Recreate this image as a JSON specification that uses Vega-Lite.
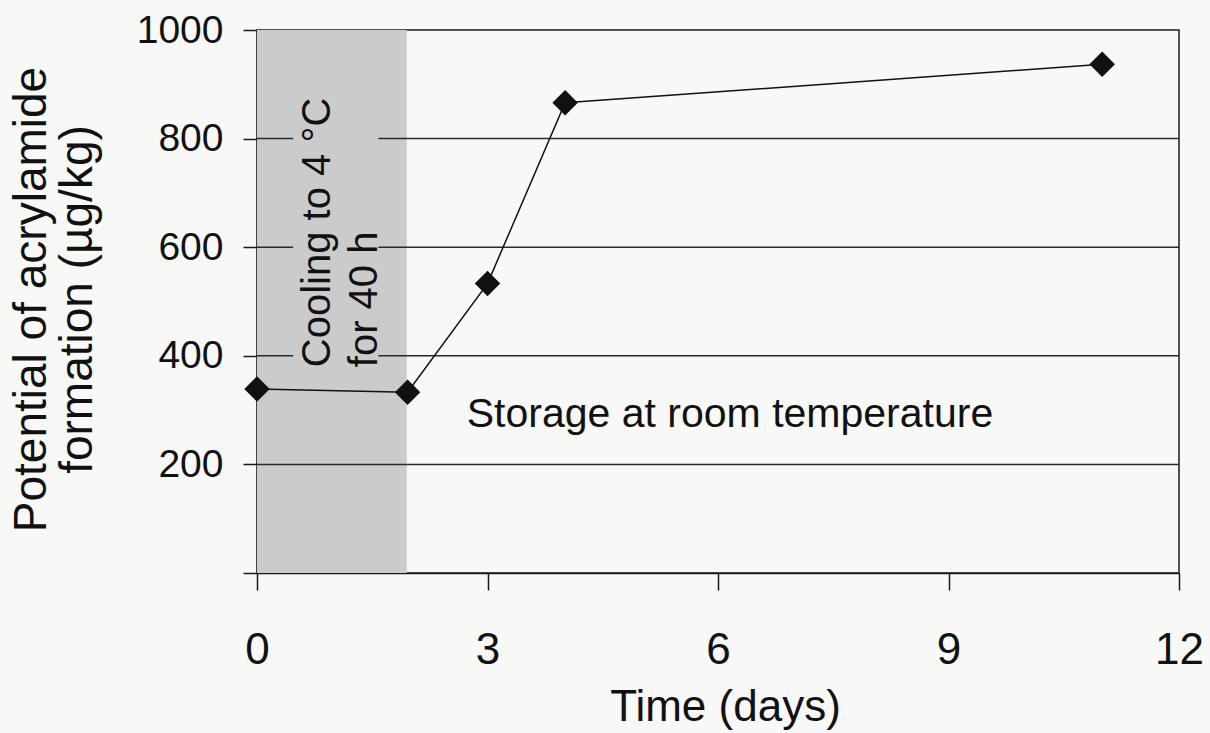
{
  "$schema": "https://vega.github.io/schema/vega-lite/v6.json",
  "width": 922,
  "height": 543,
  "autosize": {"type": "none"},
  "padding": {"left": 257, "top": 30, "right": 31, "bottom": 160},
  "background": "#f8f8f6",
  "config": {
    "font": "Liberation Sans",
    "view": {"stroke": "#1a1a1a", "strokeWidth": 1.5}
  },
  "layer": [
    {
      "data": {"values": [{"start": 0, "end": 1.95, "low": 0, "high": 1000}]},
      "mark": {"type": "rect", "color": "#cbcbcb"},
      "encoding": {
        "x": {"field": "start", "type": "quantitative", "scale": {"domain": [0, 12], "nice": false}},
        "x2": {"field": "end"},
        "y": {"field": "low", "type": "quantitative", "scale": {"domain": [0, 1000], "nice": false}},
        "y2": {"field": "high"}
      }
    },
    {
      "data": {"values": [{"grid": 200}, {"grid": 400}, {"grid": 600}, {"grid": 800}]},
      "mark": {"type": "rule", "color": "#2a2a2a", "strokeWidth": 1.5},
      "encoding": {
        "y": {"field": "grid", "type": "quantitative"}
      }
    },
    {
      "data": {"values": [{}]},
      "mark": {"type": "rect", "color": "#cbcbcb"},
      "encoding": {
        "x": {"datum": 0.47, "type": "quantitative"},
        "x2": {"datum": 1.58},
        "y": {"datum": 372, "type": "quantitative"},
        "y2": {"datum": 890}
      }
    },
    {
      "data": {"values": [
        {"day": 0, "value": 339},
        {"day": 1.96, "value": 333},
        {"day": 3, "value": 533},
        {"day": 4.01, "value": 866},
        {"day": 11, "value": 937}
      ]},
      "layer": [
        {
          "mark": {"type": "line", "color": "#111111", "strokeWidth": 1.5},
          "encoding": {
            "x": {
              "field": "day", "type": "quantitative",
              "axis": {
                "title": "Time (days)",
                "values": [0, 3, 6, 9, 12],
                "format": "d",
                "grid": false,
                "domainColor": "#1a1a1a", "domainWidth": 1.5,
                "tickColor": "#1a1a1a", "tickWidth": 1.5, "tickSize": 17,
                "labelFontSize": 44, "labelPadding": 38, "labelColor": "#111111",
                "labelFlush": false,
                "titleFontSize": 44, "titleFontWeight": "normal", "titleColor": "#111111",
                "titleBaseline": "alphabetic", "titleY": 147, "titleX": 468
              }
            },
            "y": {
              "field": "value", "type": "quantitative",
              "axis": {
                "title": ["Potential of acrylamide", "formation (µg/kg)"],
                "values": [0, 200, 400, 600, 800, 1000],
                "format": "d",
                "labelExpr": "datum.value == 0 ? '' : datum.label",
                "grid": false,
                "domainColor": "#1a1a1a", "domainWidth": 1.5,
                "tickColor": "#1a1a1a", "tickWidth": 1.5, "tickSize": 14,
                "labelFontSize": 39, "labelPadding": 20, "labelColor": "#111111",
                "labelFlush": false,
                "titleFontSize": 46, "titleFontWeight": "normal", "titleColor": "#111111",
                "titleAngle": 270, "titleAlign": "center", "titleBaseline": "alphabetic",
                "titleX": -212, "titleY": 269, "titleLineHeight": 46
              }
            }
          }
        },
        {
          "mark": {"type": "point", "shape": "diamond", "filled": true, "size": 650, "color": "#111111", "opacity": 1},
          "encoding": {
            "x": {"field": "day", "type": "quantitative"},
            "y": {"field": "value", "type": "quantitative"}
          }
        }
      ]
    },
    {
      "data": {"values": [{}]},
      "mark": {"type": "text", "angle": 270, "align": "left", "baseline": "alphabetic", "fontSize": 40, "lineHeight": 47, "color": "#111111", "text": ["Cooling to 4 °C", "for 40 h"]},
      "encoding": {
        "x": {"datum": 0.95, "type": "quantitative"},
        "y": {"datum": 379, "type": "quantitative"}
      }
    },
    {
      "data": {"values": [{}]},
      "mark": {"type": "text", "align": "left", "baseline": "alphabetic", "fontSize": 41, "color": "#111111", "text": "Storage at room temperature"},
      "encoding": {
        "x": {"datum": 2.73, "type": "quantitative"},
        "y": {"datum": 269, "type": "quantitative"}
      }
    }
  ]
}
